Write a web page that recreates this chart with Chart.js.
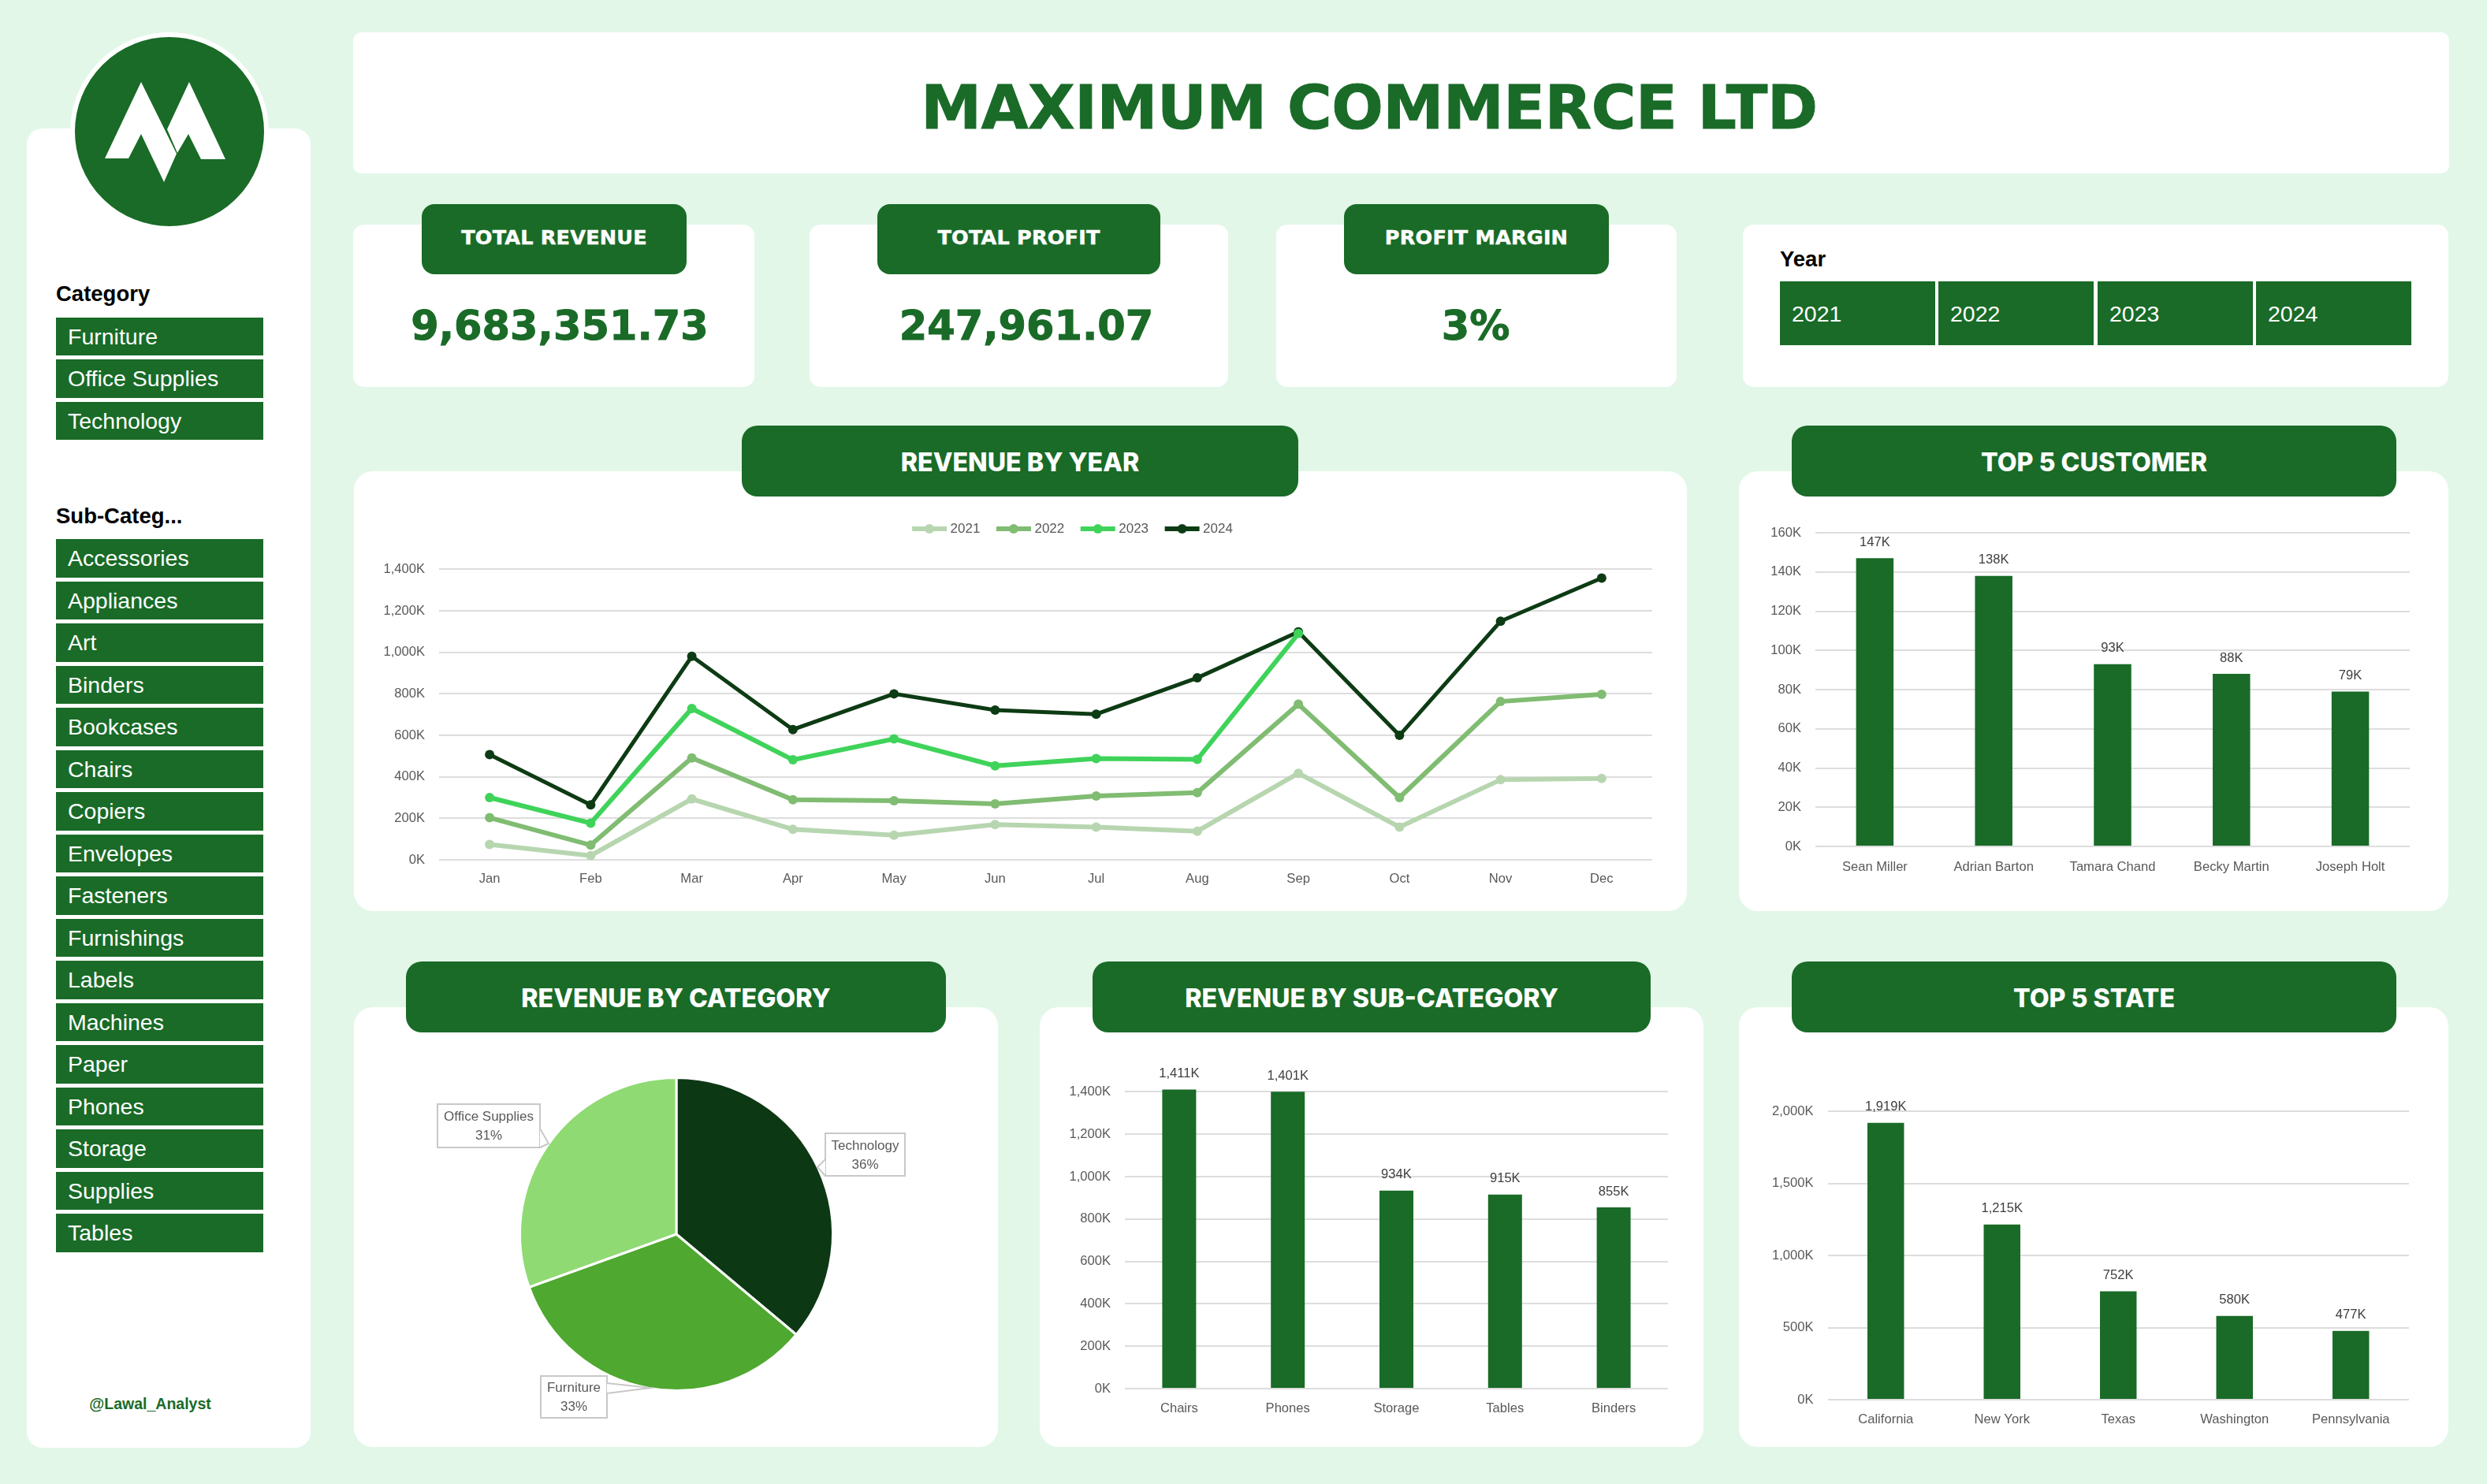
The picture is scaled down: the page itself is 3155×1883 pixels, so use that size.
<!DOCTYPE html>
<html>
<head>
<meta charset="utf-8">
<title>Maximum Commerce Ltd</title>
<script src="https://cdn.jsdelivr.net/npm/chart.js@4/dist/chart.umd.min.js"></script>
<style>
    html, body { margin: 0; padding: 0; }
    body { width: 3155px; height: 1883px; background: #E2F7E8; position: relative; overflow: hidden; font-family: "Liberation Sans", sans-serif; }
    .box { position: absolute; box-sizing: border-box; }
    .card { background: #fff; }
    .badge { background: #196B27; color: #fff; display: flex; align-items: center; justify-content: center; border-radius: 20px; }
    .badge.chart { font: 800 32.2px Inter, sans-serif; padding-top: 2px; }
    .badge.kpi { font: 700 25.5px "DejaVu Sans", sans-serif; letter-spacing: 0.2px; padding-bottom: 5px; border-radius: 16px; -webkit-text-stroke: 0.5px #fff; }
    .heading { font-weight: 700; color: #000; font-size: 27.5px; line-height: 32px; padding-top: 1px; }
    .slicer { background: #196B27; color: #fff; font-size: 28.5px; display: flex; align-items: center; padding-left: 15px; padding-top: 1px; }
    .centered { display: flex; align-items: center; justify-content: center; white-space: nowrap; }
    canvas { position: absolute; }
</style>
</head>
<body>
<script>
// Slicers
const categories = ['Furniture', 'Office Supplies', 'Technology'];
const subCategories = ['Accessories', 'Appliances', 'Art', 'Binders', 'Bookcases', 'Chairs', 'Copiers', 'Envelopes',
    'Fasteners', 'Furnishings', 'Labels', 'Machines', 'Paper', 'Phones', 'Storage', 'Supplies', 'Tables'];
const years = ['2021', '2022', '2023', '2024'];

// KPI
const kpiTitles = ['TOTAL REVENUE', 'TOTAL PROFIT', 'PROFIT MARGIN'];
const kpiValues = ['9,683,351.73', '247,961.07', '3%'];

// Revenue by year
const months = ['Jan', 'Feb', 'Mar', 'Apr', 'May', 'Jun', 'Jul', 'Aug', 'Sep', 'Oct', 'Nov', 'Dec'];
const revenue2021 = [74000, 20000, 293000, 147000, 119000, 170000, 158000, 138000, 417000, 158000, 386000, 392000];
const revenue2022 = [203000, 71000, 491000, 290000, 285000, 270000, 308000, 324000, 750000, 300000, 763000, 798000];
// after Sep the 2023 line can't be seen any more, it sits under 2024
const revenue2023 = [300000, 177000, 729000, 482000, 583000, 453000, 488000, 484000, 1091000, null, null, null];
const revenue2024 = [507000, 265000, 981000, 628000, 800000, 722000, 702000, 877000, 1099000, 600000, 1150000, 1358000];
const yearTicks = [0, 200000, 400000, 600000, 800000, 1000000, 1200000, 1400000];

// Bars and pie
const customerNames = ['Sean Miller', 'Adrian Barton', 'Tamara Chand', 'Becky Martin', 'Joseph Holt'];
const customerRevenue = [147000, 138000, 93000, 88000, 79000];
const customerTicks = [0, 20000, 40000, 60000, 80000, 100000, 120000, 140000, 160000];
const subCategoryNames = ['Chairs', 'Phones', 'Storage', 'Tables', 'Binders'];
const subCategoryRevenue = [1411000, 1401000, 934000, 915000, 855000];
const subCategoryTicks = [0, 200000, 400000, 600000, 800000, 1000000, 1200000, 1400000];
const stateNames = ['California', 'New York', 'Texas', 'Washington', 'Pennsylvania'];
const stateRevenue = [1919000, 1215000, 752000, 580000, 477000];
const stateTicks = [0, 500000, 1000000, 1500000, 2000000];
const pieNames = ['Technology', 'Furniture', 'Office Supplies'];
const pieShares = [36.1, 33.4, 30.5];

const GREEN = '#196B27';
const TICK_FONT = { family: '"Liberation Sans", sans-serif', size: 16.6 };
const TICK_COLOR = '#595959';

function addBox(className, x, y, w, h, text, extraStyle) {
    const el = document.createElement('div');
    el.className = 'box ' + className;
    el.style.cssText = `left:${x}px;top:${y}px;width:${w}px;height:${h}px;` + (extraStyle || '');
    if (text) el.textContent = text;
    document.body.appendChild(el);
    return el;
}

function addCanvas(x, y, w, h) {
    const canvas = document.createElement('canvas');
    canvas.width = w;
    canvas.height = h;
    canvas.style.cssText = `left:${x}px;top:${y}px;width:${w}px;height:${h}px;`;
    document.body.appendChild(canvas);
    return canvas.getContext('2d');
}

function formatK(value) {
    return (value / 1000).toLocaleString('en-US') + 'K';
}

// Sidebar and logo
function buildSidebar() {
    addBox('card', 34, 163, 360, 1674, '', 'border-radius:20px;');
    const logo = document.createElementNS('http://www.w3.org/2000/svg', 'svg');
    logo.setAttribute('width', 3155);
    logo.setAttribute('height', 400);
    logo.style.cssText = 'position:absolute;left:0;top:0;';
    logo.innerHTML = '<circle cx="215" cy="167" r="123" fill="#196B27" stroke="#fff" stroke-width="6"/>' +
        '<polygon fill="#fff" points="133,201 179,104 224,195 208,231 179,170 163,201"/>' +
        '<polygon fill="#fff" points="212,164 240,104 286,202 255,202 239,170 225,194"/>';
    document.body.appendChild(logo);

    addBox('heading', 71, 356, 263, 33, 'Category');
    categories.forEach((name, i) => addBox('slicer', 71, 402.5 + i * 53.5, 263, 48.5, name));
    addBox('heading', 71, 638, 263, 33, 'Sub-Categ...');
    subCategories.forEach((name, i) => addBox('slicer', 71, 684 + i * 53.5, 263, 48.5, name));
    addBox('centered', 113, 1768, 155, 26, '@Lawal_Analyst', `font-weight:700;font-size:19.5px;color:${GREEN};`);
}

// Title and KPI row
function buildHeader() {
    addBox('card', 448, 41, 2659, 179, '', 'border-radius:10px;');
    addBox('centered', 1037, 46, 1400, 179, 'MAXIMUM COMMERCE LTD',
        `font:700 77.2px "DejaVu Sans",sans-serif;letter-spacing:-0.4px;color:${GREEN};-webkit-text-stroke:1px ${GREEN};`);

    const cards = [[448, 509], [1027, 531], [1619, 508]];
    const badges = [[535, 336], [1113, 359], [1705, 336]];
    const valueCenters = [710, 1302, 1872];
    kpiTitles.forEach((title, i) => {
        addBox('card', cards[i][0], 285, cards[i][1], 206, '', 'border-radius:14px;');
        addBox('badge kpi', badges[i][0], 259, badges[i][1], 89, title);
        addBox('centered', valueCenters[i] - 250, 380, 500, 66, kpiValues[i],
            `font:700 51px "DejaVu Sans",sans-serif;color:${GREEN};-webkit-text-stroke:1px ${GREEN};`);
    });

    addBox('card', 2211, 285, 895, 206, '', 'border-radius:14px;');
    addBox('heading', 2258, 312, 300, 33, 'Year');
    const yearLefts = [2258, 2459, 2661, 2862];
    years.forEach((year, i) => addBox('slicer', yearLefts[i], 357, 197, 81, year, 'padding-top:2px;'));
}

function buildPanels() {
    const panels = [
        [449, 598, 1691, 558, 941, 706, 'REVENUE BY YEAR'],
        [2206, 598, 900, 558, 2273, 767, 'TOP 5 CUSTOMER'],
        [449, 1278, 817, 558, 515, 685, 'REVENUE BY CATEGORY'],
        [1319, 1278, 842, 558, 1386, 708, 'REVENUE BY SUB-CATEGORY'],
        [2206, 1278, 900, 558, 2273, 767, 'TOP 5 STATE']
    ];
    panels.forEach(p => addBox('card', p[0], p[1], p[2], p[3], '', 'border-radius:24px;'));
    return panels;
}

function addBadges(panels) {
    panels.forEach(p => addBox('badge chart', p[4], p[1] - 58, p[5], 90, p[6]));
}

// Value labels above the bars
const barLabels = {
    id: 'barLabels',
    afterDatasetsDraw(chart) {
        const ctx = chart.ctx;
        ctx.save();
        ctx.font = `${TICK_FONT.size}px ${TICK_FONT.family}`;
        ctx.fillStyle = '#404040';
        ctx.textAlign = 'center';
        ctx.textBaseline = 'middle';
        chart.getDatasetMeta(0).data.forEach((bar, i) => {
            ctx.fillText(formatK(chart.data.datasets[0].data[i]), bar.x, bar.y - 20);
        });
        ctx.restore();
    }
};

function axisOptions(tickValues, max, plotLeft, bottomSpace, xPadding) {
    return {
        x: {
            offset: true,
            afterFit: axis => { axis.height = bottomSpace; },
            grid: { display: false },
            border: { display: false },
            ticks: { font: TICK_FONT, color: TICK_COLOR, padding: xPadding, maxRotation: 0, autoSkip: false }
        },
        y: {
            min: 0,
            max: max,
            afterFit: axis => { axis.width = plotLeft; },
            afterBuildTicks: axis => {
                axis.ticks = tickValues.map(value => ({ value: value }));
            },
            grid: { color: '#DDDDDD', lineWidth: 2, drawTicks: false },
            border: { display: false },
            ticks: { font: TICK_FONT, color: TICK_COLOR, padding: 18, callback: formatK }
        }
    };
}

function makeBarChart(ctx, names, values, opts) {
    return new Chart(ctx, {
        type: 'bar',
        data: {
            labels: names,
            datasets: [{ data: values, backgroundColor: GREEN, barPercentage: opts.barShare, categoryPercentage: 1 }]
        },
        plugins: [barLabels],
        options: {
            responsive: false,
            animation: false,
            devicePixelRatio: 1,
            layout: { padding: { top: opts.top, right: opts.right } },
            plugins: { legend: { display: false }, tooltip: { enabled: false } },
            scales: axisOptions(opts.ticks, opts.max, opts.left, opts.bottom, opts.xPadding)
        }
    });
}

// Small picture of line + dot for the legend entries
function legendMarker(color) {
    const c = document.createElement('canvas');
    c.width = 46;
    c.height = 14;
    const g = c.getContext('2d');
    g.fillStyle = color;
    g.fillRect(1, 4, 44, 6);
    g.beginPath();
    g.arc(23, 7, 6, 0, Math.PI * 2);
    g.fill();
    return c;
}

// The legend isn't centered over the chart in the original
const legendShift = {
    id: 'legendShift',
    afterLayout(chart) {
        chart.legend.left += 90;
        chart.legend.right += 90;
    }
};

function makeLineChart() {
    const ctx = addCanvas(449, 598, 1691, 558);
    const series = [
        ['2021', revenue2021, '#B7D6B0', 6],
        ['2022', revenue2022, '#80BC72', 6],
        ['2023', revenue2023, '#3FD35A', 6],
        ['2024', revenue2024, '#0D3B14', 5]
    ];
    new Chart(ctx, {
        type: 'line',
        data: {
            labels: months,
            datasets: series.map(s => ({
                label: s[0],
                data: s[1],
                borderColor: s[2],
                backgroundColor: s[2],
                borderWidth: s[3],
                pointRadius: 6,
                pointBorderWidth: 0,
                tension: 0,
                spanGaps: false
            }))
        },
        plugins: [legendShift],
        options: {
            responsive: false,
            animation: false,
            devicePixelRatio: 1,
            layout: { padding: { right: 44, top: 40 } },
            plugins: {
                tooltip: { enabled: false },
                legend: {
                    position: 'top',
                    labels: {
                        usePointStyle: true,
                        pointStyleWidth: 36,
                        padding: 24.5,
                        color: TICK_COLOR,
                        font: { family: TICK_FONT.family, size: 17 },
                        generateLabels: chart => chart.data.datasets.map((d, i) => ({
                            text: d.label,
                            fontColor: TICK_COLOR,
                            datasetIndex: i,
                            pointStyle: legendMarker(d.borderColor),
                            lineWidth: 0
                        }))
                    }
                }
            },
            scales: axisOptions(yearTicks, 1525000, 108, 65, 6)
        }
    });
}

// Callout boxes beside the pie, page coordinates relative to the canvas
const calloutShapes = [
    { box: [598, 160, 101, 54], base: [598, 193, 598, 214], tip: [588, 203] },
    { box: [237, 468, 84, 53], base: [321, 477, 321, 490], tip: [376, 483] },
    { box: [106, 123, 130, 55], base: [236, 154, 236, 178], tip: [247, 173] }
];

const pieCallouts = {
    id: 'pieCallouts',
    afterDatasetsDraw(chart) {
        const ctx = chart.ctx;
        ctx.save();
        ctx.font = `17px ${TICK_FONT.family}`;
        ctx.textAlign = 'center';
        ctx.textBaseline = 'middle';
        calloutShapes.forEach((shape, i) => {
            const [x, y, w, h] = shape.box;
            ctx.fillStyle = '#fff';
            ctx.strokeStyle = '#C8C8C8';
            ctx.lineWidth = 2;
            ctx.fillRect(x, y, w, h);
            ctx.strokeRect(x, y, w, h);
            ctx.beginPath();
            ctx.moveTo(shape.base[0], shape.base[1]);
            ctx.lineTo(shape.tip[0], shape.tip[1]);
            ctx.lineTo(shape.base[2], shape.base[3]);
            ctx.fill();
            ctx.stroke();
            ctx.fillStyle = TICK_COLOR;
            ctx.fillText(pieNames[i], x + w / 2, y + h / 2 - 11);
            ctx.fillText(Math.round(pieShares[i]) + '%', x + w / 2, y + h / 2 + 13);
        });
        ctx.restore();
    }
};

function makePieChart() {
    const ctx = addCanvas(449, 1278, 817, 558);
    new Chart(ctx, {
        type: 'pie',
        data: {
            labels: pieNames,
            datasets: [{
                data: pieShares,
                backgroundColor: ['#0D3814', '#4FA82F', '#8FDA73'],
                borderColor: '#fff',
                borderWidth: 3
            }]
        },
        plugins: [pieCallouts],
        options: {
            responsive: false,
            animation: false,
            devicePixelRatio: 1,
            layout: { padding: { left: 209, right: 208, top: 88, bottom: 70 } },
            plugins: { legend: { display: false }, tooltip: { enabled: false } }
        }
    });
}

document.addEventListener('DOMContentLoaded', function() {
    buildSidebar();
    buildHeader();
    const panels = buildPanels();

    makeLineChart();
    makePieChart();
    makeBarChart(addCanvas(2206, 598, 900, 558), customerNames, customerRevenue, {
        barShare: 0.315, max: 160000, ticks: customerTicks, xPadding: 8,
        left: 97, right: 49, top: 78, bottom: 82
    });
    makeBarChart(addCanvas(1319, 1278, 842, 558), subCategoryNames, subCategoryRevenue, {
        barShare: 0.312, max: 1500000, ticks: subCategoryTicks, xPadding: 7,
        left: 108, right: 45, top: 80.5, bottom: 74
    });
    makeBarChart(addCanvas(2206, 1278, 900, 558), stateNames, stateRevenue, {
        barShare: 0.315, max: 2000000, ticks: stateTicks, xPadding: 7,
        left: 112.5, right: 50, top: 132, bottom: 60
    });

    addBadges(panels);
});
</script>
</body>
</html>
